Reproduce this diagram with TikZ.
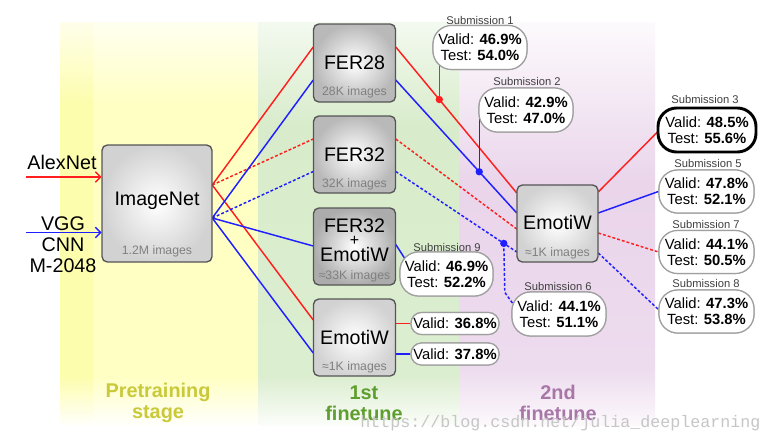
\documentclass[tikz,border=0pt]{standalone}
\usepackage{fontspec}
\setmainfont{Liberation Sans}
\newfontfamily\wmfont{Liberation Mono}
\usetikzlibrary{arrows.meta,calc}
\definecolor{lred}{HTML}{FF1F1F}
\definecolor{lblue}{HTML}{1F1FFF}
\definecolor{bandY}{HTML}{FFFFC4}
\definecolor{bandYs}{HTML}{FDFDAE}
\definecolor{bandG}{HTML}{D8ECCB}
\definecolor{bandP}{HTML}{EAD5EB}
\definecolor{txtY}{HTML}{C9C93A}
\definecolor{txtG}{HTML}{5E9E2E}
\definecolor{txtP}{HTML}{A877A8}
\definecolor{boxedge}{HTML}{555555}
\definecolor{subtxt}{HTML}{808080}
\definecolor{lbltxt}{HTML}{404040}
\pgfdeclareverticalshading{yband}{100bp}{color(0bp)=(bandY!5); color(25bp)=(bandY!5); color(31bp)=(bandY); color(65bp)=(bandY); color(75bp)=(bandY!25); color(100bp)=(bandY!25)}
\pgfdeclareverticalshading{ysband}{100bp}{color(0bp)=(bandYs!5); color(25bp)=(bandYs!5); color(31bp)=(bandYs); color(65bp)=(bandYs); color(75bp)=(bandYs!25); color(100bp)=(bandYs!25)}
\pgfdeclareverticalshading{gband}{100bp}{color(0bp)=(bandG!10); color(25bp)=(bandG!10); color(31bp)=(bandG!90); color(62bp)=(bandG); color(75bp)=(bandG!30); color(100bp)=(bandG!30)}
\pgfdeclareverticalshading{pband}{100bp}{color(0bp)=(bandP!15); color(25bp)=(bandP!15); color(32bp)=(bandP!85); color(55bp)=(bandP); color(75bp)=(bandP!12); color(100bp)=(bandP!12)}
\tikzset{
  gbox/.style={draw=boxedge, line width=1pt, rounded corners=4pt, inner sep=0pt, inner color=white, outer color=gray!55},
  lbox/.style={gbox, outer color=gray!35},
  ttl/.style={font=\fontsize{14.7}{17}\selectfont, inner sep=0pt},
  imgs/.style={font=\fontsize{9.2}{11}\selectfont, text=subtxt, inner sep=0pt},
  res/.style={draw=gray!75, fill=white, line width=0.9pt, rounded corners=14pt, inner sep=0pt, align=center, font=\fontsize{11.1}{12.3}\selectfont, minimum width=70.5pt, minimum height=33pt},
  resone/.style={res, rounded corners=8pt, minimum width=66pt, minimum height=16.5pt},
  slabel/.style={font=\fontsize{8.4}{10}\selectfont, text=lbltxt, inner sep=0pt},
  rl/.style={draw=lred, line width=1.1pt},
  bl/.style={draw=lblue, line width=1.1pt},
  dsh/.style={dash pattern=on 2.2pt off 1.5pt},
  dotm/.style={circle, inner sep=0pt, minimum size=5.5pt},
  stage/.style={font=\bfseries\fontsize{14.9}{15.75}\selectfont, align=center, inner sep=0pt},
  inp/.style={font=\fontsize{14.8}{15.75}\selectfont, align=center, inner sep=0pt},
  arr/.style={-{Straight Barb[length=4pt,width=8pt]}},
}
\begin{document}
\begin{tikzpicture}[x=0.75pt,y=-0.75pt]
\useasboundingbox (0,0) rectangle (773,443);
\fill[white] (0,0) rectangle (773,443);
% bands
\shade[shading=yband] (60,22) rectangle (258,425);
\shade[shading=ysband] (60,22) rectangle (93,425);
\shade[shading=gband] (258,22) rectangle (459,425);
\shade[shading=pband] (459,22) rectangle (655,425);

% boxes (positions)
\path
  (157,203.5) coordinate (imc)
  (354.5,63) coordinate (f28c)
  (354.5,154.5) coordinate (f32c)
  (354.5,246.5) coordinate (fec)
  (354.5,337.5) coordinate (e1c)
  (557.5,223.5) coordinate (e2c);

% nodes giving anchors before the lines are drawn
\node[minimum width=82.5pt, minimum height=87.75pt, inner sep=0pt] (imnet) at (imc) {};
\node[minimum width=61.5pt, minimum height=58.5pt, inner sep=0pt] (fer28) at (f28c) {};
\node[minimum width=61.5pt, minimum height=57.75pt, inner sep=0pt] (fer32) at (f32c) {};
\node[minimum width=61.5pt, minimum height=57.75pt, inner sep=0pt] (ferem) at (fec) {};
\node[minimum width=61.5pt, minimum height=57.75pt, inner sep=0pt] (em1) at (e1c) {};
\node[minimum width=60.75pt, minimum height=57.75pt, inner sep=0pt] (em2) at (e2c) {};

\node[res] (s1) at (480,47.5) {};
\node[res] (s2) at (526,110) {};
\node[res, minimum width=73.5pt] (s3) at (707,130) {};
\node[res, minimum width=71.25pt, minimum height=32.25pt] (s5) at (706.5,191.5) {};
\node[res, minimum width=71.25pt, minimum height=32.25pt] (s7) at (706.5,252) {};
\node[res, minimum width=71.25pt, minimum height=32.25pt] (s8) at (706.5,311.5) {};
\node[res, minimum width=69.75pt] (s9) at (446.5,274) {};
\node[res] (s6) at (559,314) {};
\node[resone] (v1) at (455,323.5) {};
\node[resone] (v2) at (455,354) {};

% outputs of ImageNet
\coordinate (imR) at ($(imnet.east)+(0,-18.5)$);
\coordinate (imB) at ($(imnet.east)+(0,14.5)$);

% input arrows
\node[inp] (alex) at (62,162) {AlexNet};
\node[inp] (vgg) at (63,245) {VGG\\CNN\\M-2048};
\coordinate (alexin) at (26,177);
\coordinate (vggin) at (26,232.5);
\draw[rl,arr] (alexin) -- ($(imnet.west)+(0,-26.5)$);
\draw[bl,arr] (vggin) -- ($(imnet.west)+(0,29)$);

% ImageNet -> 1st finetune
\draw[rl] (imR) -- ($(fer28.west)+(0,-16)$);
\draw[rl,dsh] (imR) -- ($(fer32.west)+(0,-15.5)$);
\draw[rl] (imR) -- ($(em1.west)+(0,-17.5)$);
\draw[bl] (imB) -- ($(fer28.west)+(0,17)$);
\draw[bl,dsh] (imB) -- ($(fer32.west)+(0,17)$);
\draw[bl] (imB) -- ($(ferem.west)+(0,-0.5)$);
\draw[bl] (imB) -- ($(em1.west)+(0,15.5)$);

% 1st finetune -> 2nd finetune
\draw[rl] ($(fer28.east)+(0,-16)$) -- coordinate[pos=0.36] (d1) ($(em2.west)+(0,-30.5)$);
\draw[bl] ($(fer28.east)+(0,17)$) -- coordinate[pos=0.69] (d2) ($(em2.west)+(0,-10.5)$);
\draw[rl,dsh] ($(fer32.east)+(0,-15.5)$) -- ($(em2.west)+(0,5.5)$);
\draw[bl,dsh] ($(fer32.east)+(0,17)$) -- coordinate[pos=0.893] (d3) ($(em2.west)+(0,28.5)$);
\draw[bl] ($(ferem.east)+(0,-2)$) -- ($(s9.west)+(7,-13)$);
\draw[rl] ($(em1.east)+(0,-14)$) -- (v1.west);
\draw[bl] ($(em1.east)+(0,16.5)$) -- (v2.west);

% 2nd finetune -> submissions
\draw[rl] ($(em2.east)+(0,-31.5)$) -- ($(s3.west)+(0,2)$);
\draw[bl] ($(em2.east)+(0,-10.5)$) -- (s5.west);
\draw[rl,dsh] ($(em2.east)+(0,9.5)$) -- (s7.west);
\draw[bl,dsh] ($(em2.east)+(0,29.5)$) -- ($(s8.west)+(0,-2)$);

% taps to submissions 1, 2, 6
\draw[rl] (d1) -- (d1 |- s1.center);
\draw[bl] (d2) -- (d2 |- s2.center);
\draw[bl,dsh] (d3) -- ++(1,49) -- ($(s6.west)+(1,-11)$);

% visible boxes
\node[lbox, minimum width=82.5pt, minimum height=87.75pt] (imnetb) at (imc) {};
\node[gbox, minimum width=61.5pt, minimum height=58.5pt] (fer28b) at (f28c) {};
\node[gbox, minimum width=61.5pt, minimum height=57.75pt] (fer32b) at (f32c) {};
\node[gbox, minimum width=61.5pt, minimum height=57.75pt, outer color=gray!65] (feremb) at (fec) {};
\node[lbox, minimum width=61.5pt, minimum height=57.75pt] (em1b) at (e1c) {};
\node[lbox, minimum width=60.75pt, minimum height=57.75pt] (em2b) at (e2c) {};

% box texts
\node[ttl] (t-im) at (157,201) {ImageNet};
\node[imgs] (i-im) at (157,251) {1.2M images};
\node[ttl] (t-f28) at (354.5,63) {FER28};
\node[imgs] (i-f28) at (354.5,92) {28K images};
\node[ttl] (t-f32) at (354.5,155) {FER32};
\node[imgs] (i-f32) at (354.5,184) {32K images};
\node[ttl] (t-fe1) at (354.5,226) {FER32};
\node[ttl, font=\fontsize{12}{14}\selectfont] (t-fe2) at (354.5,240.5) {+};
\node[ttl] (t-fe3) at (354.5,254.5) {EmotiW};
\node[imgs] (i-fe) at (354.5,276) {≈33K images};
\node[ttl] (t-e1) at (354.5,337) {EmotiW};
\node[imgs] (i-e1) at (354.5,367) {≈1K images};
\node[ttl] (t-e2) at (557.5,222) {EmotiW};
\node[imgs] (i-e2) at (557.5,253) {≈1K images};

% submission boxes drawn over lines
\node[res] (s1b) at (s1) {Valid: \textbf{46.9\%}\\Test: \textbf{54.0\%}};
\node[res] (s2b) at (s2) {Valid: \textbf{42.9\%}\\Test: \textbf{47.0\%}};
\node[res, minimum width=73.5pt, draw=black, line width=2.2pt] (s3b) at (s3) {Valid: \textbf{48.5\%}\\Test: \textbf{55.6\%}};
\node[res, minimum width=71.25pt, minimum height=32.25pt] (s5b) at (s5) {Valid: \textbf{47.8\%}\\Test: \textbf{52.1\%}};
\node[res, minimum width=71.25pt, minimum height=32.25pt] (s7b) at (s7) {Valid: \textbf{44.1\%}\\Test: \textbf{50.5\%}};
\node[res, minimum width=71.25pt, minimum height=32.25pt] (s8b) at (s8) {Valid: \textbf{47.3\%}\\Test: \textbf{53.8\%}};
\node[res, minimum width=69.75pt] (s9b) at (s9) {Valid: \textbf{46.9\%}\\Test: \textbf{52.2\%}};
\node[res] (s6b) at (s6) {Valid: \textbf{44.1\%}\\Test: \textbf{51.1\%}};
\node[resone] (v1b) at (v1) {Valid: \textbf{36.8\%}};
\node[resone] (v2b) at (v2) {Valid: \textbf{37.8\%}};

% submission labels
\node[slabel] (l1) at (480,20) {Submission 1};
\node[slabel] (l2) at (527,81) {Submission 2};
\node[slabel] (l3) at (705,99) {Submission 3};
\node[slabel] (l5) at (708,163) {Submission 5};
\node[slabel] (l7) at (706,224) {Submission 7};
\node[slabel] (l8) at (706,283) {Submission 8};
\node[slabel] (l9) at (447,247) {Submission 9};
\node[slabel] (l6) at (558,286) {Submission 6};

% dots
\node[dotm, fill=lred] (d1n) at (d1) {};
\node[dotm, fill=lblue] (d2n) at (d2) {};
\node[dotm, fill=lblue] (d3n) at (d3) {};

% stage labels
\node[stage, text=txtY] (st1) at (158,402.5) {Pretraining\\stage};
\node[stage, text=txtG] (st2) at (364,403.5) {1st\\finetune};
\node[stage, text=txtP] (st3) at (558,403) {2nd\\finetune};

% watermark
\node[anchor=west, inner sep=0pt, text=gray!45, font=\wmfont\fontsize{12.5}{14}\selectfont] (wm) at (360,423) {https://blog.csdn.net/julia\_deeplearning};
\end{tikzpicture}
\end{document}
